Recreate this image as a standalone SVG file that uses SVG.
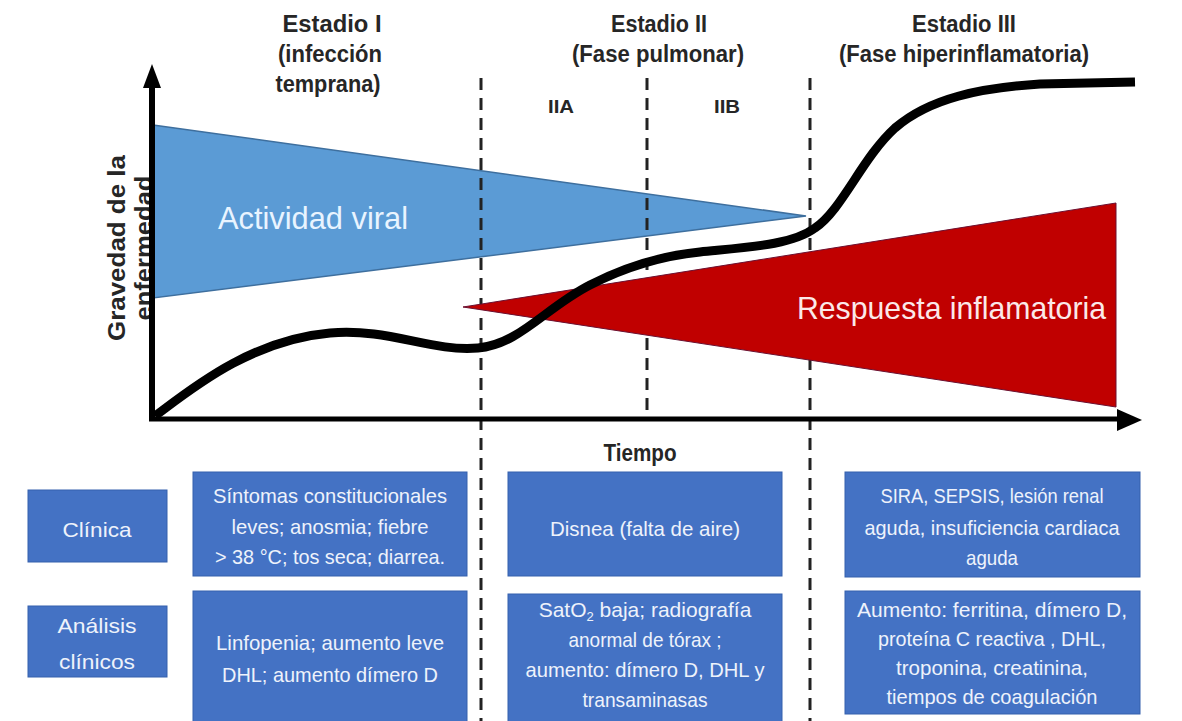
<svg xmlns="http://www.w3.org/2000/svg" width="1182" height="721" viewBox="0 0 1182 721">
<defs>
<style>
.hdr{font-family:"Liberation Sans",Arial,sans-serif;font-weight:bold;font-size:23px;fill:#262626;text-anchor:middle}
.sub{font-family:"Liberation Sans",Arial,sans-serif;font-weight:bold;font-size:19px;fill:#262626;text-anchor:middle}
.ax{font-family:"Liberation Sans",Arial,sans-serif;font-weight:bold;font-size:23px;fill:#262626;text-anchor:middle}
.big{font-family:"Liberation Sans",Arial,sans-serif;font-size:32px;text-anchor:start}
.box{fill:#4472C4;stroke:#3560ad;stroke-width:1}
.bt{font-family:"Liberation Sans",Arial,sans-serif;font-size:21px;fill:#eef2fb;text-anchor:middle}
.dash{stroke:#222;stroke-width:3;stroke-dasharray:12 8;fill:none}
</style>
</defs>
<rect width="1182" height="721" fill="#ffffff"/>

<!-- headers -->
<g id="header-estadio1">
<text class="hdr" x="332" y="32" textLength="99" lengthAdjust="spacingAndGlyphs">Estadio I</text>
<text class="hdr" x="330" y="62" textLength="104" lengthAdjust="spacingAndGlyphs">(infección</text>
<text class="hdr" x="328" y="92" textLength="105" lengthAdjust="spacingAndGlyphs">temprana)</text>
</g>
<g id="header-estadio2">
<text class="hdr" x="659" y="32" textLength="96" lengthAdjust="spacingAndGlyphs">Estadio II</text>
<text class="hdr" x="658" y="62" textLength="172" lengthAdjust="spacingAndGlyphs">(Fase pulmonar)</text>
<text class="sub" x="561" y="113" textLength="26" lengthAdjust="spacingAndGlyphs">IIA</text>
<text class="sub" x="727" y="113" textLength="26" lengthAdjust="spacingAndGlyphs">IIB</text>
</g>
<g id="header-estadio3">
<text class="hdr" x="964" y="32" textLength="104" lengthAdjust="spacingAndGlyphs">Estadio III</text>
<text class="hdr" x="964" y="62" textLength="250" lengthAdjust="spacingAndGlyphs">(Fase hiperinflamatoria)</text>
</g>

<!-- y axis label -->
<g id="y-label">
<text class="ax" transform="translate(125,248) rotate(-90)" textLength="186" lengthAdjust="spacingAndGlyphs">Gravedad de la</text>
<text class="ax" transform="translate(152,248) rotate(-90)" textLength="145" lengthAdjust="spacingAndGlyphs">enfermedad</text>
</g>

<!-- viral activity -->
<g id="actividad-viral">
<polygon points="153,125 806,216 153,298" fill="#5B9BD5" stroke="#3e6f9e" stroke-width="1.5"/>
<text class="big" x="218" y="229" fill="#e9f4ff" textLength="190" lengthAdjust="spacingAndGlyphs">Actividad viral</text>
</g>

<!-- stage dividers -->
<g id="connectors">
<line class="dash" x1="481" y1="78" x2="481" y2="721"/>
<line class="dash" x1="647" y1="78" x2="647" y2="420"/>
<line class="dash" x1="810" y1="78" x2="810" y2="721"/>
</g>

<!-- inflammatory response -->
<g id="respuesta-inflamatoria">
<polygon points="463,307 1116,203 1116,407" fill="#C00000" stroke="#6b1030" stroke-width="1"/>
<text class="big" x="797" y="319" fill="#fbe9e9" textLength="309" lengthAdjust="spacingAndGlyphs">Respuesta inflamatoria</text>
</g>

<!-- severity curve -->
<g id="curva-gravedad">
<path d="M155,416 C190,390 250,340 330,333 C390,328 430,352 478,348 C520,344 545,308 590,285 C625,267 660,256 700,252 C750,247 792,245 815,228 C842,210 862,158 895,128 C930,98 980,88 1040,84 L1135,82" fill="none" stroke="#000" stroke-width="9"/>
</g>

<!-- axes -->
<g id="ejes">
<line x1="152" y1="420" x2="152" y2="82" stroke="#000" stroke-width="6"/>
<polygon points="152,64 143,88 161,88" fill="#000"/>
<line x1="149" y1="419" x2="1120" y2="419" stroke="#000" stroke-width="5"/>
<polygon points="1142,420 1117,409 1117,431" fill="#000"/>
<text class="hdr" x="640" y="461" font-size="21" textLength="73" lengthAdjust="spacingAndGlyphs">Tiempo</text>
</g>

<!-- row labels -->
<g id="clinica">
<rect class="box" x="28" y="490" width="139" height="72"/>
<text class="bt" x="97" y="537" textLength="69" lengthAdjust="spacingAndGlyphs">Clínica</text>
</g>
<g id="analisis">
<rect class="box" x="28" y="606" width="139" height="71"/>
<text class="bt" x="97" y="633" textLength="79" lengthAdjust="spacingAndGlyphs">Análisis</text>
<text class="bt" x="97" y="669" textLength="76" lengthAdjust="spacingAndGlyphs">clínicos</text>
</g>

<!-- stage I -->
<g id="clinica-estadio1">
<rect class="box" x="193" y="472" width="274" height="104"/>
<text class="bt" x="330" y="503" textLength="234" lengthAdjust="spacingAndGlyphs">Síntomas constitucionales</text>
<text class="bt" x="330" y="534" textLength="197" lengthAdjust="spacingAndGlyphs">leves; anosmia; fiebre</text>
<text class="bt" x="330" y="564" textLength="230" lengthAdjust="spacingAndGlyphs">&gt; 38 °C; tos seca; diarrea.</text>
</g>
<g id="analisis-estadio1">
<rect class="box" x="193" y="591" width="274" height="140"/>
<text class="bt" x="330" y="650" textLength="228" lengthAdjust="spacingAndGlyphs">Linfopenia; aumento leve</text>
<text class="bt" x="330" y="682" textLength="216" lengthAdjust="spacingAndGlyphs">DHL; aumento dímero D</text>
</g>

<!-- stage II -->
<g id="clinica-estadio2">
<rect class="box" x="508" y="472" width="274" height="104"/>
<text class="bt" x="645" y="536" textLength="190" lengthAdjust="spacingAndGlyphs">Disnea (falta de aire)</text>
</g>
<g id="analisis-estadio2">
<rect class="box" x="508" y="594" width="274" height="137"/>
<text class="bt" x="645" y="617">SatO<tspan font-size="13" dy="4">2</tspan><tspan dy="-4"> baja; radiografía</tspan></text>
<text class="bt" x="645" y="647" textLength="153" lengthAdjust="spacingAndGlyphs">anormal de tórax ;</text>
<text class="bt" x="645" y="677" textLength="239" lengthAdjust="spacingAndGlyphs">aumento: dímero D, DHL y</text>
<text class="bt" x="645" y="707" textLength="125" lengthAdjust="spacingAndGlyphs">transaminasas</text>
</g>

<!-- stage III -->
<g id="clinica-estadio3">
<rect class="box" x="845" y="472" width="295" height="105"/>
<text class="bt" x="992" y="503" textLength="223" lengthAdjust="spacingAndGlyphs">SIRA, SEPSIS, lesión renal</text>
<text class="bt" x="992" y="535" textLength="255" lengthAdjust="spacingAndGlyphs">aguda, insuficiencia cardiaca</text>
<text class="bt" x="992" y="565" textLength="52" lengthAdjust="spacingAndGlyphs">aguda</text>
</g>
<g id="analisis-estadio3">
<rect class="box" x="845" y="591" width="295" height="123"/>
<text class="bt" x="992" y="617" textLength="270" lengthAdjust="spacingAndGlyphs">Aumento: ferritina, dímero D,</text>
<text class="bt" x="992" y="646" textLength="228" lengthAdjust="spacingAndGlyphs">proteína C reactiva , DHL,</text>
<text class="bt" x="992" y="675" textLength="192" lengthAdjust="spacingAndGlyphs">troponina, creatinina,</text>
<text class="bt" x="992" y="704" textLength="211" lengthAdjust="spacingAndGlyphs">tiempos de coagulación</text>
</g>
</svg>
